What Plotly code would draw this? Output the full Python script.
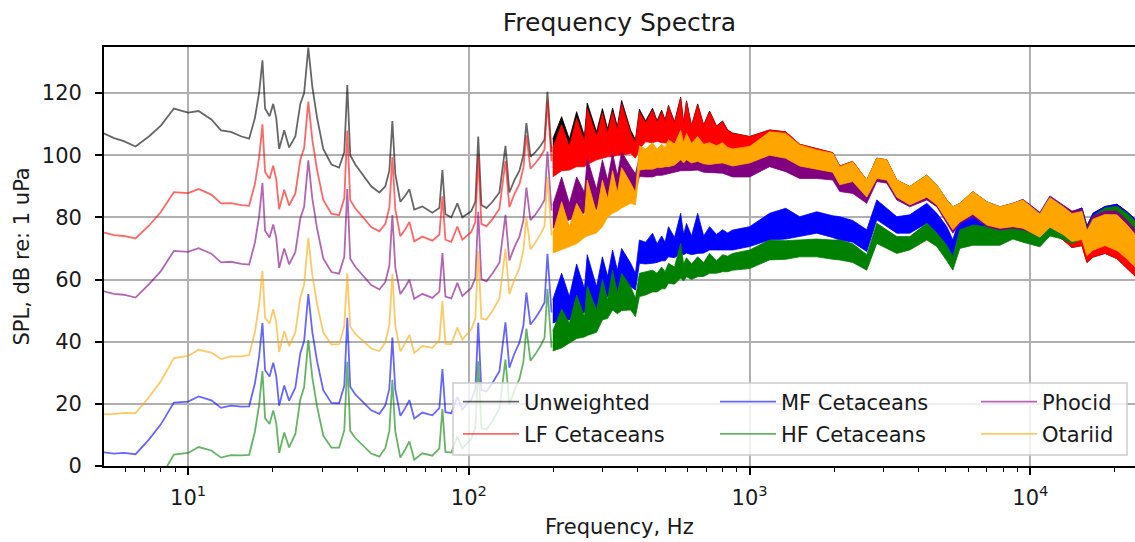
import plotly.graph_objects as go

# ---------------- data ----------------
LOW_FREQ = [5.0, 5.45, 5.9, 6.5, 7.25, 8.0, 8.9, 10.0, 10.9, 12.1,
            13.1, 14.2, 15.5, 16.5, 17.3, 17.9, 18.4, 18.8, 19.5, 20.1,
            20.6, 21.1, 22.0, 22.9, 24.1, 25.1, 25.9, 26.8, 27.7, 28.8,
            30.3, 32.4, 34.5, 36.0, 36.9, 37.8, 39.4, 42.1, 44.9, 48.0,
            50.4, 52.1, 53.4, 54.7, 57.0, 59.4, 61.4, 63.9, 68.3, 74.1,
            78.5, 80.5, 82.5, 86.6, 91.0, 94.8, 98.8, 102, 105.5, 108,
            110.8, 115.5, 121.3, 128.5, 135, 139.4, 145.3, 151.4, 156.4, 160.3,
            165.7, 172.6, 180, 186, 190.5, 197]

UNW_LOW = [107, 105.5, 104.5, 102.8, 106, 109.5, 115, 113.7, 114.2, 111.5,
           108, 107.5, 106, 105.3, 112, 120, 130.5, 115, 112.5, 116.5,
           112, 102, 108, 102.5, 106, 116.5, 120, 134.6, 122, 112,
           102, 97, 96, 101, 122.6, 100, 97, 93.5, 90, 88,
           90, 95, 111, 94, 85, 87, 89, 82.5, 83.5, 81.5,
           83, 95.2, 81, 80, 84.5, 80, 81, 82, 85, 106,
           84, 83, 85, 88, 103, 88, 92, 95, 100, 110.3,
           99.5, 101, 103, 105, 120.4, 101]

LF_LOW = [75.1, 74.3, 74.0, 73.2, 77.3, 81.7, 88.1, 87.8, 89.1, 87.3,
          84.5, 84.6, 83.9, 83.7, 90.8, 99.1, 109.9, 94.6, 92.4, 96.6,
          92.4, 82.6, 88.9, 83.8, 87.7, 98.5, 102.3, 117.2, 104.9, 95.2,
          85.6, 81.2, 80.7, 86.1, 107.9, 85.5, 82.9, 79.9, 76.9, 75.5,
          77.9, 83.2, 99.4, 82.6, 73.9, 76.2, 78.5, 72.3, 73.8, 72.5,
          74.4, 86.8, 72.8, 72.1, 77.0, 72.8, 74.1, 75.3, 78.5, 99.7,
          77.9, 77.1, 79.4, 82.8, 98.1, 83.3, 87.5, 90.7, 95.9, 106.4,
          95.7, 97.4, 99.6, 101.8, 117.3, 98.0]

PW_LOW = [56.2, 55.4, 55.1, 54.2, 58.4, 62.7, 69.2, 68.9, 70.1, 68.3,
          65.5, 65.7, 65.0, 64.8, 71.9, 80.2, 91.0, 75.7, 73.5, 77.7,
          73.5, 63.7, 70.0, 64.9, 68.8, 79.7, 83.4, 98.3, 86.0, 76.4,
          66.8, 62.4, 61.9, 67.3, 89.1, 66.7, 64.1, 61.2, 58.2, 56.8,
          59.2, 64.5, 80.7, 63.9, 55.3, 57.7, 59.9, 53.8, 55.4, 54.1,
          56.1, 68.5, 54.5, 53.9, 58.9, 54.7, 56.1, 57.3, 60.6, 81.8,
          60.1, 59.4, 61.9, 65.4, 80.8, 66.1, 70.4, 73.8, 79.1, 89.6,
          79.1, 80.9, 83.3, 85.6, 101.2, 82.1]

OW_LOW = [16.7, 16.7, 17.1, 17.0, 22.1, 27.3, 34.7, 35.4, 37.4, 36.5,
          34.4, 35.3, 35.3, 35.7, 43.2, 51.8, 62.8, 47.7, 45.8, 50.4,
          46.3, 36.7, 43.4, 38.6, 43.0, 54.2, 58.3, 73.4, 61.4, 52.1,
          43.0, 39.1, 39.2, 45.0, 62.0, 44.8, 42.5, 40.2, 37.8, 37.0,
          39.8, 45.4, 61.8, 45.2, 36.9, 39.6, 42.2, 36.4, 38.6, 38.0,
          40.5, 53.1, 39.3, 39.2, 44.5, 40.7, 42.4, 44.0, 47.5, 69.0,
          47.4, 47.1, 49.9, 53.9, 69.8, 55.3, 60.0, 63.7, 69.3, 80.0,
          69.7, 71.9, 74.6, 77.2, 93.0, 74.1]

MF_LOW = [4.4, 4.0, 4.2, 3.8, 8.5, 13.4, 20.4, 20.7, 22.4, 21.1,
          18.7, 19.4, 19.1, 19.2, 26.6, 35.1, 46.0, 30.8, 28.8, 33.2,
          29.0, 19.4, 25.9, 21.0, 25.2, 36.3, 40.2, 55.3, 43.1, 33.7,
          24.4, 20.3, 20.2, 25.8, 47.7, 25.5, 23.0, 20.5, 17.9, 16.8,
          19.5, 24.9, 41.3, 24.6, 16.2, 18.7, 21.2, 15.3, 17.2, 16.3,
          18.6, 31.2, 17.3, 17.0, 22.2, 18.2, 19.8, 21.3, 24.7, 46.1,
          24.4, 24.0, 26.7, 30.5, 46.2, 31.6, 36.2, 39.7, 45.2, 55.8,
          45.5, 47.6, 50.2, 52.6, 68.3, 49.4]

HF_LOW = [-13.3, -13.5, -13.2, -13.4, -8.5, -3.5, 3.7, 4.2, 6.1, 5.0,
          2.7, 3.5, 3.4, 3.6, 11.1, 19.6, 30.5, 15.4, 13.5, 17.9,
          13.8, 4.2, 10.8, 6.0, 10.3, 21.4, 25.4, 40.5, 28.4, 19.1,
          9.8, 5.9, 5.9, 11.5, 33.5, 11.3, 9.0, 6.5, 4.0, 3.0,
          5.8, 11.3, 27.7, 11.1, 2.7, 5.4, 7.9, 2.0, 4.1, 3.3,
          5.7, 18.3, 4.5, 4.3, 9.5, 5.7, 7.3, 8.8, 12.4, 33.7,
          12.1, 11.8, 14.5, 18.4, 34.2, 19.7, 24.4, 28.0, 33.5, 44.2,
          33.9, 36.0, 38.7, 41.2, 57.0, 38.1]

# dense high-frequency part: upper / lower envelope of each spectrum
HI_FREQ = [199, 214, 228, 242, 258, 264, 285, 299, 312, 325,
           338, 350, 377, 392, 405, 426, 451, 468, 486, 500,
           514, 540, 568, 582, 596, 621, 653, 686, 720, 762,
           801, 835, 870, 1000, 1178, 1344, 1508, 1734, 1977, 2094,
           2329, 2613, 2837, 3079, 3343, 3718, 4276, 4642, 5040, 5293,
           5607, 6237, 6998, 7787, 8663, 9404, 10812, 11733, 13058, 14060,
           15264, 15900, 16703, 18435, 20341, 22084, 23580]

UNW_HI_UP = [105.2, 112.4, 105.2, 114, 106.2, 116.8, 107.5, 115, 108.4, 115.2,
             109.2, 117.6, 108, 105, 114.8, 111, 115.1, 111.1, 114.5, 111.3,
             116, 110.7, 118.7, 110.4, 117.5, 109.5, 116.5, 109.7, 114.2, 109.4,
             111, 108.1, 107.1, 106, 108.1, 107.5, 103.5, 102, 100.8, 96.5,
             98, 92, 99, 98.5, 92, 89.9, 93.6, 90.4, 85.6, 83.4,
             84.5, 88.3, 85, 83.4, 84.5, 85.6, 80, 86.5, 83.5, 81.8,
             83, 77.2, 81.3, 83.5, 84.2, 81.8, 79.4]
UNW_HI_LO = [95.9, 97.5, 97.5, 98.5, 98.1, 98.8, 100, 100.5, 100.9, 100.7,
             101.2, 101.1, 101.5, 100, 102.8, 105, 104.6, 105, 104.5, 104.5,
             104.5, 104.2, 104.4, 104.3, 104, 103.6, 103.6, 103.2, 103.2, 103,
             102.6, 102.1, 101.8, 99.5, 100.5, 99.5, 96.5, 95.5, 94.5, 90.5,
             92, 86.5, 93, 92, 86.5, 84, 86.5, 84, 79, 76,
             78.5, 81, 77.5, 76.5, 77, 76.5, 72.2, 75.3, 72.8, 70.3,
             70.9, 65.5, 67.2, 68.4, 66.7, 63.7, 61.1]

LF_HI_UP = [102.3, 109.8, 102.8, 111.9, 104.4, 115, 106, 113.5, 107, 114,
            108, 116.5, 107.1, 104, 114, 110.3, 114.5, 110.5, 114, 110.8,
            115.6, 110.3, 118.3, 110, 117.2, 109.2, 116.2, 109.5, 114, 109.2,
            110.8, 108, 107, 106, 108.1, 107.5, 103.5, 102, 100.8, 96.5,
            98, 92, 99, 98.5, 92, 89.7, 93.3, 90, 85.1, 82.9,
            84, 87.8, 84.5, 82.8, 83.5, 84.2, 79.7, 84.8, 81.8, 79.3,
            79.9, 73.5, 77.2, 78.4, 78.2, 74.7, 71.6]
LF_HI_LO = [93, 95, 95.2, 96.3, 96.3, 97, 98.5, 99, 99.5, 99.5,
            100, 100, 100.6, 99, 102, 104.3, 104, 104.5, 104, 104,
            104, 103.8, 104, 104, 103.8, 103.3, 103.3, 103, 103, 102.8,
            102.5, 102, 101.7, 99.5, 100.5, 99.5, 96.5, 95.5, 94.5, 90.5,
            92, 86.5, 93, 92, 86.5, 83.8, 86.2, 83.6, 78.5, 75.5,
            77.5, 79.8, 76.5, 74.8, 75.5, 75.2, 72.2, 75.3, 72.8, 70.3,
            70.9, 65.5, 67.2, 68.4, 66.7, 63.7, 61.1]

PW_HI_UP = [84, 93, 84.5, 93, 88, 99, 89, 98.5, 92, 100.6,
            93.5, 101, 96.3, 94, 99.5, 99.5, 101, 99.5, 101, 99.8,
            101.5, 100, 103, 100, 102, 100, 101, 99.5, 100, 99,
            99, 98, 97, 98.3, 103.8, 102.7, 99.3, 98.7, 98.1, 94.1,
            94.1, 90, 98, 97.5, 91, 89.3, 92.7, 89.8, 85, 82.9,
            84, 88, 84.8, 83.3, 84.5, 85.8, 81.6, 86.9, 84.1, 82,
            82.7, 76.5, 80.4, 82, 82, 79, 76.1]
PW_HI_LO = [76.5, 78, 79.2, 80, 81.5, 82, 82.5, 85.6, 86, 87.7,
            87.5, 88.5, 89.9, 88, 93.1, 93, 93, 93.5, 93.5, 93.8,
            94, 94.5, 95, 95, 95, 95, 95.2, 94.5, 94.5, 94.3,
            94.2, 93.5, 93, 93, 96.3, 94.7, 92.5, 92.5, 92, 88.3,
            87.7, 84.5, 91.5, 91, 85.6, 83.4, 85.6, 83.4, 78.1, 74.9,
            78, 80.2, 77, 75.9, 76.5, 76, 74.1, 77.4, 75.1, 73,
            73.7, 68.5, 70.4, 72, 70.5, 68, 65.6]

OW_HI_UP = [75, 85, 77, 84.5, 80, 92, 81.3, 92, 86, 95,
            88, 96, 91, 88, 103, 102, 104, 102, 103.5, 102.5,
            105, 103.5, 108, 104, 107, 103.8, 106, 103.5, 104, 103,
            104, 102.5, 102, 102.8, 107.5, 107, 103.3, 101.7, 100.6, 96.3,
            97.9, 92, 99, 98.5, 92, 89.9, 93.6, 90.4, 85.6, 83.4,
            84.5, 88.3, 85, 83.4, 84.5, 85.6, 81.1, 86.35, 83.5, 81.2,
            81.9, 75.7, 79.4, 80.9, 80.8, 77.6, 74.6]
OW_HI_LO = [68.5, 69.5, 70.6, 71.5, 73.5, 74, 75, 77, 80, 81.3,
            82, 83, 84.5, 84, 95.2, 95.5, 95.5, 96, 96, 96.3,
            96.3, 96.8, 98.5, 97.5, 98.5, 97.5, 98, 97.2, 97, 97.3,
            97.5, 97, 96.5, 97.5, 100, 99, 96.5, 95.5, 94.5, 90.5,
            91.5, 86.5, 92.5, 92, 86.5, 84, 86.5, 84, 79, 76,
            78.5, 81, 77.5, 76.5, 77, 76.5, 73.6, 76.85, 74.5, 72.2,
            72.9, 67.7, 69.4, 70.9, 69.3, 66.6, 64.1]

MF_HI_UP = [53.5, 62, 54.5, 65, 57, 68, 57.7, 67.3, 61, 69.5,
            63, 70, 65.2, 62, 72.7, 72, 74.9, 71.5, 74, 72,
            77, 73.5, 81.3, 74.5, 78, 74, 81.3, 74, 77, 74.5,
            76, 75, 75.9, 77, 81.3, 82.9, 80.2, 81.8, 80.5, 80.2,
            79, 76, 85.6, 83, 80.2, 80.8, 84.5, 81.3, 77, 72.7,
            80.2, 81, 80, 79.5, 81, 82.6, 80, 86.5, 83.5, 81.8,
            83, 77.2, 81.3, 83.5, 84.2, 81.8, 79.4]
MF_HI_LO = [46, 47, 47, 48, 49.5, 50, 50.2, 52.3, 54.5, 56.6,
            56, 57, 57.7, 56.6, 65.2, 65, 65.2, 65.5, 66, 66,
            67.3, 67, 68.4, 68, 68.5, 68, 68.4, 68.5, 69.5, 69.5,
            69.5, 69.5, 69.5, 70.6, 72.7, 73, 73.8, 74.9, 73.5, 72.7,
            72, 69, 79.2, 77, 74.9, 74.9, 78.1, 74.9, 70, 67.3,
            74.9, 75, 73.5, 72.5, 74, 74, 72.1, 76.5, 74.5, 72.8,
            74, 69.2, 71.3, 73.5, 72.7, 70.8, 68.9]

HF_HI_UP = [43.5, 50.5, 45.9, 55, 48, 58, 50, 60, 53.5, 63,
            55.5, 62, 57.7, 54, 62, 62.5, 63, 62, 64, 62.5,
            65.2, 64, 71.6, 65, 67, 65, 67.3, 65.5, 68.4, 66,
            68, 67.5, 68.4, 69.5, 72.7, 72.5, 72.7, 73, 72.7, 72.7,
            71.5, 68, 78.1, 76, 73.8, 73.8, 78.1, 74.9, 71, 67.3,
            76, 77.5, 77, 77, 79, 80, 78.5, 84.5, 82.5, 81,
            82.5, 76.5, 80.5, 83, 83.5, 81.3, 78.8]
HF_HI_LO = [37, 38, 39.5, 41, 41.5, 42, 43, 47, 47.5, 50.2,
            49, 50, 50.2, 48, 54.5, 55, 56, 56, 57, 57,
            58.8, 58.5, 60.5, 59.5, 60.9, 60, 60.9, 61, 62, 62,
            62.5, 62.5, 63, 63.5, 66.3, 66.5, 67.3, 67.3, 66.5, 66.3,
            65.5, 63, 71.6, 70, 68.4, 69.5, 72.7, 70.6, 66, 63,
            70, 71, 71, 71, 73, 72, 70.5, 74, 73, 71.5,
            73, 68.5, 70.5, 72.5, 72, 70.3, 68.3]

SERIES_NAMES = ["Unweighted", "LF Cetaceans", "MF Cetaceans",
                "HF Cetaceans", "Phocid", "Otariid"]
SERIES_RGB = [(0, 0, 0), (255, 0, 0), (0, 0, 255),
              (0, 128, 0), (128, 0, 128), (255, 165, 0)]
SERIES_LEGEND = ["legend", "legend", "legend2", "legend2", "legend3", "legend3"]
LOW_DATA = [UNW_LOW, LF_LOW, MF_LOW, HF_LOW, PW_LOW, OW_LOW]
HI_UP = [UNW_HI_UP, LF_HI_UP, MF_HI_UP, HF_HI_UP, PW_HI_UP, OW_HI_UP]
HI_LO = [UNW_HI_LO, LF_HI_LO, MF_HI_LO, HF_HI_LO, PW_HI_LO, OW_HI_LO]

for arr in LOW_DATA:
    assert len(arr) == len(LOW_FREQ), len(arr)
for arr in HI_UP + HI_LO:
    assert len(arr) == len(HI_FREQ), len(arr)

X_TICKS = [10, 100, 1000, 10000]
X_TICK_TEXT = ["10<sup>1</sup>", "10<sup>2</sup>", "10<sup>3</sup>", "10<sup>4</sup>"]
X_MINOR = [6, 7, 8, 9, 20, 30, 40, 50, 60, 70, 80, 90,
           200, 300, 400, 500, 600, 700, 800, 900,
           2000, 3000, 4000, 5000, 6000, 7000, 8000, 9000, 20000]
Y_TICKS = [0, 20, 40, 60, 80, 100, 120]

FONT = "DejaVu Sans"
TXT = "#1a1a1a"

# ---------------- figure ----------------
fig = go.Figure()
for name, rgb, leg, low, up, lo in zip(SERIES_NAMES, SERIES_RGB, SERIES_LEGEND,
                                        LOW_DATA, HI_UP, HI_LO):
    r, g, b = rgb
    fig.add_trace(go.Scatter(
        x=LOW_FREQ, y=low, mode="lines", name=name,
        line=dict(color=f"rgba({r},{g},{b},0.6)", width=1.8),
        legend=leg, legendgroup=name, hoverinfo="skip"))
    fig.add_trace(go.Scatter(
        x=HI_FREQ + HI_FREQ[::-1], y=up + lo[::-1], mode="lines",
        fill="toself", fillcolor=f"rgb({r},{g},{b})",
        line=dict(color=f"rgb({r},{g},{b})", width=0.8),
        showlegend=False, legendgroup=name, hoverinfo="skip"))

W, H = 1135, 542
ML, MR, MT, MB = 104, 0, 47, 76
PW_ = W - ML - MR
PH_ = H - MT - MB


def px_x(p):
    return (p - ML) / PW_


def px_y(p):
    return (H - MB - p) / PH_


legend_common = dict(
    bgcolor="rgba(0,0,0,0)", borderwidth=0,
    font=dict(family=FONT, size=21, color=TXT),
    itemwidth=56, tracegroupgap=2, traceorder="grouped",
    xanchor="left", yanchor="top", orientation="v")

fig.update_layout(
    width=W, height=H,
    margin=dict(l=ML, r=MR, t=MT, b=MB, pad=0),
    paper_bgcolor="white", plot_bgcolor="white",
    font=dict(family=FONT, size=21, color=TXT),
    title=dict(text="Frequency Spectra", x=0.5, xref="paper",
               y=1 - 22 / H, yref="container", yanchor="middle",
               xanchor="center", font=dict(family=FONT, size=25, color=TXT)),
    legend=dict(legend_common, x=px_x(458), y=px_y(381.5)),
    legend2=dict(legend_common, x=px_x(715), y=px_y(381.5)),
    legend3=dict(legend_common, x=px_x(976), y=px_y(381.5)),
    xaxis=dict(
        type="log", range=[0.7005, 4.3725],
        tickvals=X_TICKS, ticktext=X_TICK_TEXT,
        ticks="outside", ticklen=7, tickwidth=1.8, tickcolor="black",
        ticklabelstandoff=5,
        showgrid=True, gridcolor="#b0b0b0", gridwidth=1.8,
        showline=True, linecolor="black", linewidth=1.8, mirror=True,
        zeroline=False,
        tickfont=dict(family=FONT, size=21, color=TXT),
        minor=dict(tickvals=X_MINOR, ticks="outside", ticklen=4,
                   tickwidth=1.4, tickcolor="black", showgrid=False)),
    yaxis=dict(
        range=[0, 134.8], tickvals=Y_TICKS,
        ticks="outside", ticklen=7, tickwidth=1.8, tickcolor="black",
        ticklabelstandoff=9,
        showgrid=True, gridcolor="#b0b0b0", gridwidth=1.8,
        showline=True, linecolor="black", linewidth=1.8, mirror=False,
        zeroline=False,
        tickfont=dict(family=FONT, size=21, color=TXT)),
    annotations=[
        dict(text="Frequency, Hz", xref="paper", yref="paper",
             x=0.5, y=px_y(527), xanchor="center", yanchor="middle",
             showarrow=False, font=dict(family=FONT, size=21, color=TXT)),
        dict(text="SPL, dB re: 1 uPa", xref="paper", yref="paper",
             x=px_x(21), y=0.5, xanchor="center", yanchor="middle",
             textangle=-90, showarrow=False,
             font=dict(family=FONT, size=21, color=TXT)),
    ],
    shapes=[dict(type="rect", xref="paper", yref="paper",
                 x0=px_x(453), x1=px_x(1127), y0=px_y(455), y1=px_y(383),
                 fillcolor="rgba(255,255,255,0.8)",
                 line=dict(color="#cccccc", width=1.5), layer="above")],
)

fig.write_html("out.html")
